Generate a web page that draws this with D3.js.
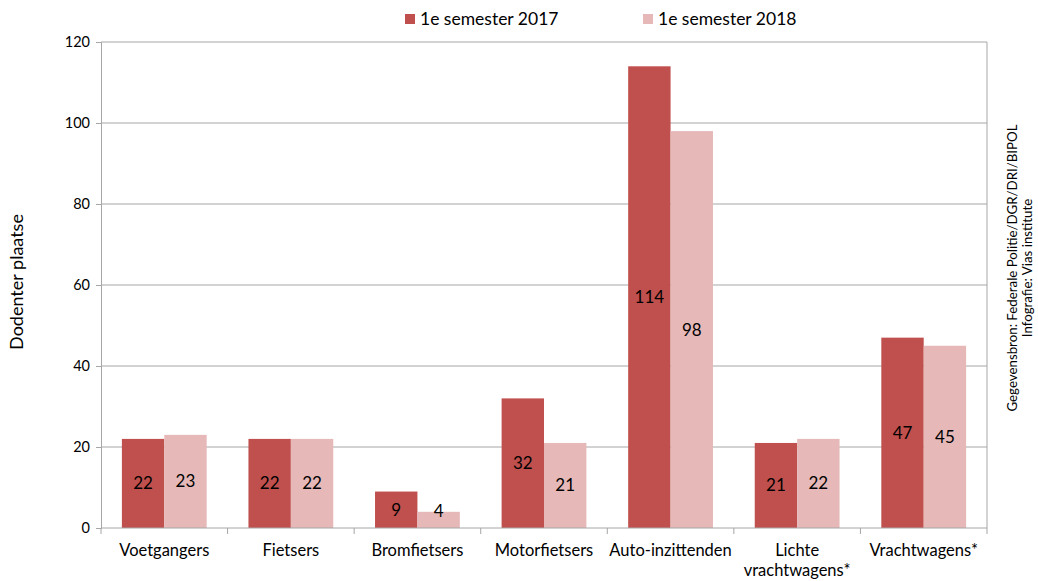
<!DOCTYPE html>
<html>
<head>
<meta charset="utf-8">
<script src="https://cdn.jsdelivr.net/npm/d3@7"></script>
<style>
  body { margin: 0; background: #fff; }
  text { font-family: Lato, "Open Sans", sans-serif; fill: #000; }
</style>
</head>
<body>
<div id="chart"></div>
<script>
// Data
const categories = ['Voetgangers', 'Fietsers', 'Bromfietsers', 'Motorfietsers', 'Auto-inzittenden', 'Lichte vrachtwagens*', 'Vrachtwagens*'];
const series2017 = [22, 22, 9, 32, 114, 21, 47];
const series2018 = [23, 22, 4, 21, 98, 22, 45];
const seriesNames = ['1e semester 2017', '1e semester 2018'];
const yTicks = [0, 20, 40, 60, 80, 100, 120];

const width = 1038;
const height = 581;
const margin = { top: 42, right: 51, bottom: 53, left: 101 };
const colors = ['#C0504D', '#E6B9B8'];

const svg = d3.select('#chart')
  .append('svg')
  .attr('width', width)
  .attr('height', height);

const x = d3.scaleBand()
  .domain(categories)
  .range([margin.left, width - margin.right])
  .paddingInner(0.33)
  .paddingOuter(0.165);

const xSub = d3.scaleBand()
  .domain([0, 1])
  .range([0, x.bandwidth()]);

const y = d3.scaleLinear()
  .domain([0, 120])
  .range([height - margin.bottom, margin.top]);

const gridColor = '#A6A6A6';

// Gridlines
svg.append('g')
  .selectAll('line')
  .data(yTicks.slice(1))
  .join('line')
  .attr('x1', margin.left)
  .attr('x2', width - margin.right)
  .attr('y1', d => y(d))
  .attr('y2', d => y(d))
  .attr('stroke', gridColor)
  .attr('stroke-width', 1);

// Right border
svg.append('line')
  .attr('x1', width - margin.right)
  .attr('x2', width - margin.right)
  .attr('y1', y(120))
  .attr('y2', y(0))
  .attr('stroke', gridColor);

// Bars
const rows = categories.map((c, i) => ({ cat: c, values: [series2017[i], series2018[i]] }));

const groups = svg.append('g')
  .selectAll('g')
  .data(rows)
  .join('g')
  .attr('transform', d => `translate(${x(d.cat)},0)`);

groups.selectAll('rect')
  .data(d => d.values.map((v, k) => ({ v, k })))
  .join('rect')
  .attr('x', d => xSub(d.k))
  .attr('width', xSub.bandwidth())
  .attr('y', d => y(d.v))
  .attr('height', d => y(0) - y(d.v))
  .attr('fill', d => colors[d.k]);

// Value labels
groups.selectAll('text.val')
  .data(d => d.values.map((v, k) => ({ v, k })))
  .join('text')
  .attr('class', 'val')
  .attr('x', d => xSub(d.k) + xSub.bandwidth() / 2)
  .attr('y', d => Math.min((y(d.v) + y(0)) / 2, y(0) - 17))
  .attr('dy', '0.35em')
  .attr('text-anchor', 'middle')
  .attr('font-size', 17)
  .text(d => d.v);

// Y axis
const yAxis = svg.append('g')
  .attr('transform', `translate(${margin.left},0)`)
  .call(d3.axisLeft(y).tickValues(yTicks).tickSize(5).tickPadding(6));
yAxis.select('.domain').attr('stroke', gridColor);
yAxis.selectAll('.tick line').attr('stroke', gridColor);
yAxis.selectAll('.tick text').attr('font-size', 14.5).attr('font-family', 'Lato, sans-serif').attr('fill', '#000');

// X axis line and boundary ticks
const xBase = svg.append('g');
xBase.append('line')
  .attr('x1', margin.left)
  .attr('x2', width - margin.right)
  .attr('y1', y(0))
  .attr('y2', y(0))
  .attr('stroke', gridColor);
const step = x.step();
xBase.selectAll('line.tk')
  .data(d3.range(categories.length + 1))
  .join('line')
  .attr('class', 'tk')
  .attr('x1', i => margin.left + i * step)
  .attr('x2', i => margin.left + i * step)
  .attr('y1', y(0))
  .attr('y2', y(0) + 6)
  .attr('stroke', gridColor);

// Category labels (wrap long ones)
const catLabels = svg.append('g')
  .selectAll('text')
  .data(categories)
  .join('text')
  .attr('text-anchor', 'middle')
  .attr('font-size', 16.5)
  .attr('x', d => x(d) + x.bandwidth() / 2)
  .attr('y', y(0) + 28);
catLabels.each(function(d) {
  const parts = d === 'Lichte vrachtwagens*' ? ['Lichte', 'vrachtwagens*'] : [d];
  d3.select(this).selectAll('tspan')
    .data(parts)
    .join('tspan')
    .attr('x', x(d) + x.bandwidth() / 2)
    .attr('dy', (p, i) => i === 0 ? 0 : 20)
    .text(p => p);
});

// Y axis title
svg.append('text')
  .attr('transform', 'translate(23,282) rotate(-90)')
  .attr('text-anchor', 'middle')
  .attr('font-size', 18)
  .text('Dodenter plaatse');

// Source note on the right
const note = svg.append('text')
  .attr('transform', 'translate(1017,268) rotate(-90)')
  .attr('text-anchor', 'middle')
  .attr('font-size', 13.3);
note.append('tspan').attr('x', 0).attr('dy', 0).text('Gegevensbron: Federale Politie/DGR/DRI/BIPOL');
note.append('tspan').attr('x', 0).attr('dy', 15).text('Infografie: Vias institute');

// Legend
const legendX = [405, 643];
const legend = svg.append('g')
  .selectAll('g')
  .data(seriesNames)
  .join('g')
  .attr('transform', (d, i) => `translate(${legendX[i]},14)`);
legend.append('rect')
  .attr('width', 10)
  .attr('height', 10)
  .attr('fill', (d, i) => colors[i]);
legend.append('text')
  .attr('x', 15)
  .attr('y', 5)
  .attr('dy', '0.35em')
  .attr('font-size', 17.5)
  .text(d => d);
</script>
</body>
</html>
